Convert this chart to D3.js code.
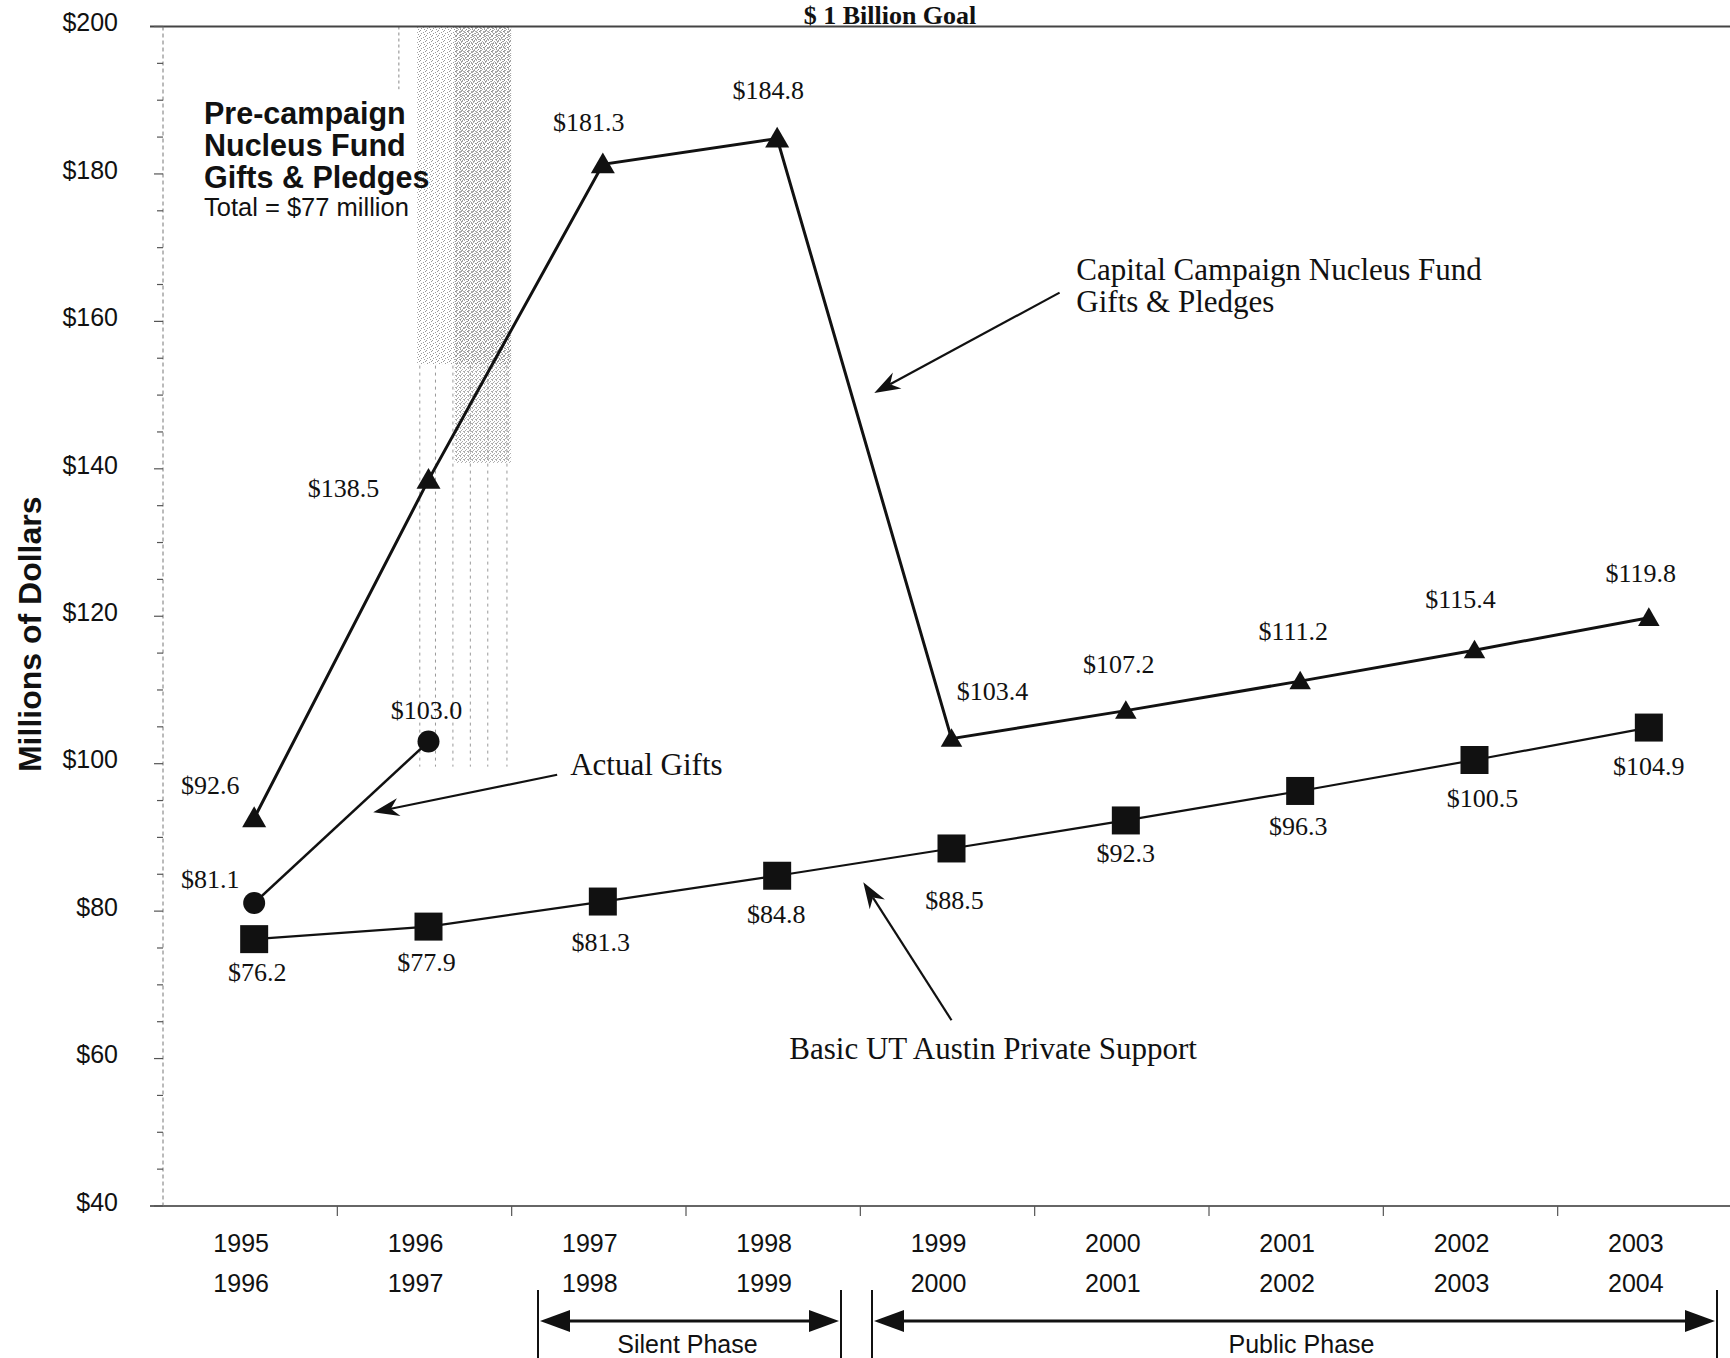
<!DOCTYPE html>
<html>
<head>
<meta charset="utf-8">
<script src="https://cdn.jsdelivr.net/npm/d3@7"></script>
<style>
  html, body { margin: 0; padding: 0; background: #fff; }
  svg { display: block; }
</style>
</head>
<body>
<svg id="chart" width="1730" height="1358"></svg>
<script>
// ---------------- DATA ----------------
const categories = ["1995-96","1996-97","1997-98","1998-99","1999-00","2000-01","2001-02","2002-03","2003-04"];
const catLine1 = ["1995","1996","1997","1998","1999","2000","2001","2002","2003"];
const catLine2 = ["1996","1997","1998","1999","2000","2001","2002","2003","2004"];
const capitalCampaign = [92.6, 138.5, 181.3, 184.8, 103.4, 107.2, 111.2, 115.4, 119.8];
const actualGifts = [81.1, 103.0];
const basicSupport = [76.2, 77.9, 81.3, 84.8, 88.5, 92.3, 96.3, 100.5, 104.9];
const yTicks = [40, 60, 80, 100, 120, 140, 160, 180, 200];
const yTickLabels = ["$40","$60","$80","$100","$120","$140","$160","$180","$200"];
const title = "$ 1 Billion Goal";
const yTitle = "Millions of Dollars";
const phases = ["Silent Phase", "Public Phase"];

// ---------------- LAYOUT (positions only) ----------------
const plot = { left: 163, right: 1732, top: 26.5, bottom: 1206 };
const pointShift = 4;
// label offsets [dx, dy] from marker (px)
const capOffsets = [[-44,-24],[-85,17],[-14,-33],[-9,-40],[41,-39],[-7,-38],[-7,-41],[-14,-42],[-8,-36]];
const giftOffsets = [[-44,-15],[-2,-23]];
const basicOffsets = [[3,42],[-2,44],[-2,49],[-1,47],[3,61],[0,42],[-2,44],[8,47],[0,47]];

const SANS = "'Liberation Sans', Arial, Helvetica, sans-serif";
const SERIF = "'Liberation Serif', 'Times New Roman', Times, serif";

const svg = d3.select("#chart");

const x = d3.scaleBand().domain(categories).range([plot.left, plot.right]).padding(0);
const y = d3.scaleLinear().domain([40, 200]).range([plot.bottom, plot.top]);
const px = c => x(c) + x.bandwidth() / 2 + pointShift;
// fractional index scale for annotations
const xi = d3.scaleLinear().domain([0, 8]).range([px(categories[0]), px(categories[8])]);

// ---------- patterns for stippled band ----------
const defs = svg.append("defs");
const p1 = defs.append("pattern").attr("id","stip1").attr("width",6).attr("height",5).attr("patternUnits","userSpaceOnUse");
[[0,0],[3,2],[1,3],[4,4],[5,1]].forEach(([a,b]) => p1.append("rect").attr("x",a).attr("y",b).attr("width",1).attr("height",1).attr("fill","#888"));
const p2 = defs.append("pattern").attr("id","stip2").attr("width",4).attr("height",4).attr("patternUnits","userSpaceOnUse");
[[0,0],[2,1],[1,2],[3,3],[0,3]].forEach(([a,b]) => p2.append("rect").attr("x",a).attr("y",b).attr("width",1).attr("height",1).attr("fill","#777"));

// stippled pre-campaign band
svg.append("rect").attr("x", xi(0.935)).attr("y", y(200)).attr("width", xi(1.474) - xi(0.935)).attr("height", y(154.2) - y(200)).attr("fill","url(#stip1)").attr("opacity",0.85);
svg.append("rect").attr("x", xi(1.15)).attr("y", y(200)).attr("width", xi(1.474) - xi(1.15)).attr("height", y(140.8) - y(200)).attr("fill","url(#stip2)").attr("opacity",0.6);
[0.95, 1.04, 1.14, 1.24, 1.34, 1.45].forEach(f => {
  svg.append("line").attr("x1", xi(f)).attr("x2", xi(f)).attr("y1", y(154)).attr("y2", y(99.6))
    .attr("stroke","#999").attr("stroke-width",1).attr("stroke-dasharray","3,4");
});
svg.append("line").attr("x1", xi(0.83)).attr("x2", xi(0.83)).attr("y1", y(200)).attr("y2", y(191.5))
  .attr("stroke","#888").attr("stroke-width",1).attr("stroke-dasharray","3,3");

// ---------- frame lines ----------
svg.append("line").attr("x1", 150).attr("x2", 1730).attr("y1", y(200)).attr("y2", y(200)).attr("stroke","#444").attr("stroke-width",2);
svg.append("line").attr("x1", 150).attr("x2", 1730).attr("y1", y(40)).attr("y2", y(40)).attr("stroke","#666").attr("stroke-width",2);
svg.append("line").attr("x1", plot.left).attr("x2", plot.left).attr("y1", y(200)).attr("y2", y(40))
  .attr("stroke","#777").attr("stroke-width",1).attr("stroke-dasharray","4,3");

// y ticks (minor every 5)
const minor = d3.range(40, 200.1, 5);
svg.append("g").selectAll("line").data(minor).join("line")
  .attr("x1", d => d % 20 === 0 ? plot.left - 9 : plot.left - 6).attr("x2", plot.left)
  .attr("y1", d => y(d)).attr("y2", d => y(d)).attr("stroke","#555").attr("stroke-width",1.2);

// y tick labels
svg.append("g").selectAll("text").data(yTicks).join("text")
  .attr("x", 118).attr("y", d => y(d) - 4).attr("dy","0.35em")
  .attr("text-anchor","end").attr("font-family", SANS).attr("font-size", 25).attr("fill","#111")
  .text((d,i) => yTickLabels[i]);

// y axis title
svg.append("text").attr("transform", `translate(41, ${(y(200)+y(40))/2 + 18}) rotate(-90)`)
  .attr("text-anchor","middle").attr("font-family", SANS).attr("font-weight","bold").attr("font-size",32).attr("fill","#111")
  .text(yTitle);

// bottom ticks at band boundaries
svg.append("g").selectAll("line").data(categories.slice(1)).join("line")
  .attr("x1", d => x(d)).attr("x2", d => x(d)).attr("y1", y(40)).attr("y2", y(40) + 10)
  .attr("stroke","#555").attr("stroke-width",1.2);

// category labels
const catG = svg.append("g").attr("font-family", SANS).attr("font-size", 25).attr("fill","#111").attr("text-anchor","middle");
catG.selectAll("text.l1").data(categories).join("text").attr("class","l1")
  .attr("x", d => px(d) - 13).attr("y", 1252).text((d,i) => catLine1[i]);
catG.selectAll("text.l2").data(categories).join("text").attr("class","l2")
  .attr("x", d => px(d) - 13).attr("y", 1292).text((d,i) => catLine2[i]);

// title
svg.append("text").attr("x", 890).attr("y", 24).attr("text-anchor","middle")
  .attr("font-family", SERIF).attr("font-weight","bold").attr("font-size",26).attr("fill","#111")
  .text(title);

// ---------- series ----------
const line = d3.line().x(d => px(d.c)).y(d => y(d.v));
const toPts = arr => arr.map((v,i) => ({c: categories[i], v}));

const capPts = toPts(capitalCampaign);
const giftPts = toPts(actualGifts);
const basicPts = toPts(basicSupport);

svg.append("path").datum(basicPts).attr("d", line).attr("fill","none").attr("stroke","#111").attr("stroke-width",2.2);
svg.append("path").datum(giftPts).attr("d", line).attr("fill","none").attr("stroke","#111").attr("stroke-width",2.5);
svg.append("path").datum(capPts).attr("d", line).attr("fill","none").attr("stroke","#111").attr("stroke-width",3);

svg.append("g").selectAll("path").data(basicPts).join("path")
  .attr("transform", d => `translate(${px(d.c)},${y(d.v)})`)
  .attr("d", d3.symbol(d3.symbolSquare, 784)).attr("fill","#111");
svg.append("g").selectAll("path").data(giftPts).join("path")
  .attr("transform", d => `translate(${px(d.c)},${y(d.v)})`)
  .attr("d", d3.symbol(d3.symbolCircle, 380)).attr("fill","#111");
svg.append("g").selectAll("path").data(capPts).join("path")
  .attr("transform", d => `translate(${px(d.c)},${y(d.v) + 2})`)
  .attr("d", (d,i) => d3.symbol(d3.symbolTriangle, i < 4 ? 250 : 200)()).attr("fill","#111");

// value labels
const fmt = v => "$" + d3.format(".1f")(v);
function labels(pts, offs) {
  svg.append("g").selectAll("text").data(pts).join("text")
    .attr("x", (d,i) => px(d.c) + offs[i][0]).attr("y", (d,i) => y(d.v) + offs[i][1])
    .attr("text-anchor","middle").attr("font-family", SERIF).attr("font-size",26).attr("fill","#111")
    .text(d => fmt(d.v));
}
labels(capPts, capOffsets);
labels(giftPts, giftOffsets);
labels(basicPts, basicOffsets);

// ---------- annotations ----------
function arrow(x1, y1, x2, y2, len = 26, hw = 9, notch = 8, sw = 2.2) {
  const ang = Math.atan2(y2 - y1, x2 - x1);
  const ux = Math.cos(ang), uy = Math.sin(ang);
  const bx = x2 - ux * len, by = y2 - uy * len;
  const nx = -uy, ny = ux;
  svg.append("line").attr("x1", x1).attr("y1", y1).attr("x2", x2 - ux * (len - notch)).attr("y2", y2 - uy * (len - notch))
    .attr("stroke","#111").attr("stroke-width", sw);
  const pts = [[x2, y2], [bx + nx * hw, by + ny * hw], [x2 - ux * (len - notch), y2 - uy * (len - notch)], [bx - nx * hw, by - ny * hw]];
  svg.append("path").attr("d", "M" + pts.map(p => p.join(",")).join("L") + "Z").attr("fill","#111");
}
arrow(xi(4.62), y(163.9), xi(3.557), y(150.3));
arrow(xi(1.738), y(98.5), xi(0.683), y(93.4));
arrow(xi(4.0), y(65.2), xi(3.494), y(83.9));

const annG = svg.append("g").attr("font-family", SERIF).attr("font-size",31).attr("fill","#111");
annG.append("text").attr("x", xi(4.716)).attr("y", y(165.6)).text("Capital Campaign Nucleus Fund");
annG.append("text").attr("x", xi(4.716)).attr("y", y(165.6) + 32).text("Gifts & Pledges");
annG.append("text").attr("x", xi(1.813)).attr("y", y(98.5)).text("Actual Gifts");
annG.append("text").attr("x", xi(3.07)).attr("y", y(59.9)).text("Basic UT Austin Private Support");

// pre-campaign box text
const preG = svg.append("g").attr("font-family", SANS).attr("fill","#111");
const preX = 204;
["Pre-campaign","Nucleus Fund","Gifts & Pledges"].forEach((t,i) => {
  preG.append("text").attr("x", preX).attr("y", 124 + i * 32).attr("font-weight","bold").attr("font-size",30.5).text(t);
});
preG.append("text").attr("x", preX).attr("y", 216).attr("font-size",25.5).text("Total = $77 million");

// ---------- phase brackets ----------
const brackets = [
  { name: phases[0], x1: 538, x2: 841 },
  { name: phases[1], x1: 872, x2: 1717 }
];
const byy = 1321;
brackets.forEach((b, k) => {
  [b.x1, b.x2].forEach(xx => svg.append("line").attr("x1", xx).attr("x2", xx).attr("y1", 1290).attr("y2", 1358).attr("stroke","#111").attr("stroke-width",2));
  svg.append("line").attr("x1", b.x1 + 20).attr("x2", b.x2 - 20).attr("y1", byy).attr("y2", byy).attr("stroke","#111").attr("stroke-width",3);
  svg.append("path").attr("d", `M${b.x1 + 2},${byy} L${b.x1 + 32},${byy - 11} L${b.x1 + 32},${byy + 11} Z`).attr("fill","#111");
  svg.append("path").attr("d", `M${b.x2 - 2},${byy} L${b.x2 - 32},${byy - 11} L${b.x2 - 32},${byy + 11} Z`).attr("fill","#111");
  svg.append("text").attr("x", (b.x1 + b.x2) / 2 + (k === 1 ? 7 : -2)).attr("y", 1353).attr("text-anchor","middle")
    .attr("font-family", SANS).attr("font-size",25).attr("fill","#111").text(b.name);
});
</script>
</body>
</html>
